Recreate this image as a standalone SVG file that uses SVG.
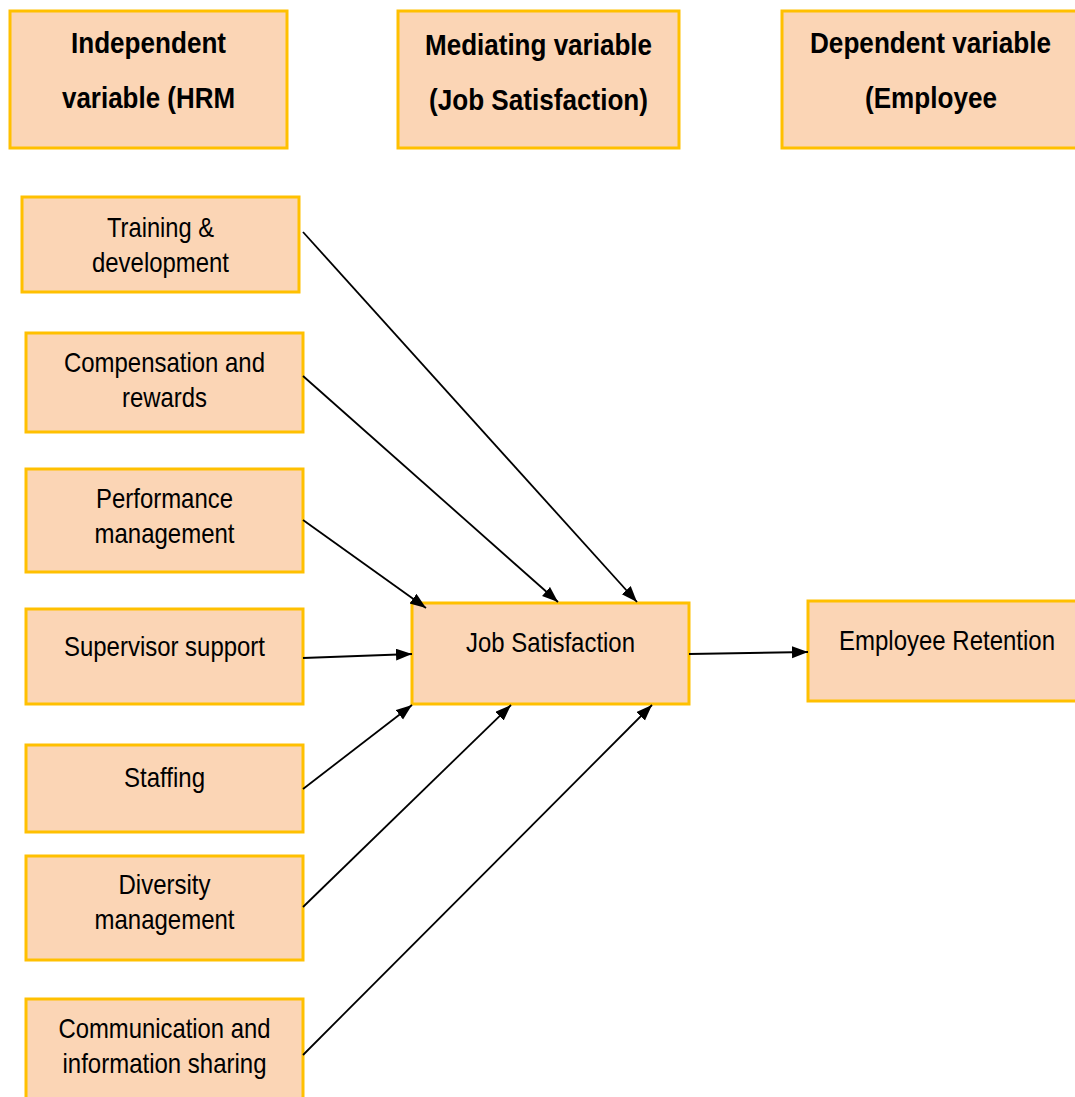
<svg xmlns="http://www.w3.org/2000/svg" width="1075" height="1097" viewBox="0 0 1075 1097">
<style>
.box{fill:#FBD5B5;stroke:#FFC000;stroke-width:3}
.t{font-family:"Liberation Sans",Arial,sans-serif;font-size:28px;fill:#000;text-anchor:middle}
.h{font-family:"Liberation Sans",Arial,sans-serif;font-size:30px;font-weight:bold;fill:#000;text-anchor:middle}
.c{stroke:#000;stroke-width:1.8;fill:none;marker-end:url(#ah)}
</style>
<defs>
<marker id="ah" markerUnits="userSpaceOnUse" markerWidth="17" markerHeight="13" refX="16" refY="6" orient="auto">
<path d="M0,0 L16,6 L0,12 z" fill="#000"/>
</marker>
</defs>
<rect width="1075" height="1097" fill="#fff"/>
<g id="hdr-independent">
<rect class="box" x="10" y="11" width="277" height="137"/>
<text class="h" x="148.5" y="53" textLength="155" lengthAdjust="spacingAndGlyphs">Independent</text>
<text class="h" x="148.5" y="108" textLength="173" lengthAdjust="spacingAndGlyphs">variable (HRM</text>
</g>
<g id="hdr-mediating">
<rect class="box" x="398" y="11" width="281" height="137"/>
<text class="h" x="538.5" y="55" textLength="227" lengthAdjust="spacingAndGlyphs">Mediating variable</text>
<text class="h" x="538.5" y="110" textLength="219" lengthAdjust="spacingAndGlyphs">(Job Satisfaction)</text>
</g>
<g id="hdr-dependent">
<rect class="box" x="782" y="11" width="298" height="137"/>
<text class="h" x="930.5" y="53" textLength="241" lengthAdjust="spacingAndGlyphs">Dependent variable</text>
<text class="h" x="931" y="108" textLength="132" lengthAdjust="spacingAndGlyphs">(Employee</text>
</g>
<g id="training">
<rect class="box" x="22" y="197" width="277" height="95"/>
<text class="t" x="160.5" y="237" textLength="107" lengthAdjust="spacingAndGlyphs">Training &amp;</text>
<text class="t" x="160.5" y="272" textLength="137" lengthAdjust="spacingAndGlyphs">development</text>
</g>
<g id="compensation">
<rect class="box" x="26" y="333" width="277" height="99"/>
<text class="t" x="164.5" y="372" textLength="201" lengthAdjust="spacingAndGlyphs">Compensation and</text>
<text class="t" x="164.5" y="407" textLength="85" lengthAdjust="spacingAndGlyphs">rewards</text>
</g>
<g id="performance">
<rect class="box" x="26" y="469" width="277" height="103"/>
<text class="t" x="164.5" y="508" textLength="137" lengthAdjust="spacingAndGlyphs">Performance</text>
<text class="t" x="164.5" y="543" textLength="140" lengthAdjust="spacingAndGlyphs">management</text>
</g>
<g id="supervisor">
<rect class="box" x="26" y="609" width="277" height="95"/>
<text class="t" x="164.5" y="656" textLength="201" lengthAdjust="spacingAndGlyphs">Supervisor support</text>
</g>
<g id="staffing">
<rect class="box" x="26" y="745" width="277" height="87"/>
<text class="t" x="164.5" y="787" textLength="81" lengthAdjust="spacingAndGlyphs">Staffing</text>
</g>
<g id="diversity">
<rect class="box" x="26" y="856" width="277" height="104"/>
<text class="t" x="164.5" y="894" textLength="92" lengthAdjust="spacingAndGlyphs">Diversity</text>
<text class="t" x="164.5" y="929" textLength="140" lengthAdjust="spacingAndGlyphs">management</text>
</g>
<g id="communication">
<rect class="box" x="26" y="999" width="277" height="110"/>
<text class="t" x="164.5" y="1038" textLength="212" lengthAdjust="spacingAndGlyphs">Communication and</text>
<text class="t" x="164.5" y="1073" textLength="204" lengthAdjust="spacingAndGlyphs">information sharing</text>
</g>
<g id="job-satisfaction">
<rect class="box" x="412" y="603" width="277" height="101"/>
<text class="t" x="550.5" y="652" textLength="169" lengthAdjust="spacingAndGlyphs">Job Satisfaction</text>
</g>
<g id="employee-retention">
<rect class="box" x="808" y="601" width="280" height="100"/>
<text class="t" x="947" y="650" textLength="216" lengthAdjust="spacingAndGlyphs">Employee Retention</text>
</g>
<g id="connectors">
<line class="c" x1="303" y1="232" x2="637" y2="602"/>
<line class="c" x1="303" y1="376" x2="558" y2="602"/>
<line class="c" x1="303" y1="520" x2="426" y2="608"/>
<line class="c" x1="303" y1="658" x2="412" y2="654"/>
<line class="c" x1="303" y1="789" x2="412" y2="705"/>
<line class="c" x1="303" y1="907" x2="511" y2="705"/>
<line class="c" x1="303" y1="1055" x2="652" y2="705"/>
<line class="c" x1="689" y1="654" x2="808" y2="652"/>
</g>
</svg>
